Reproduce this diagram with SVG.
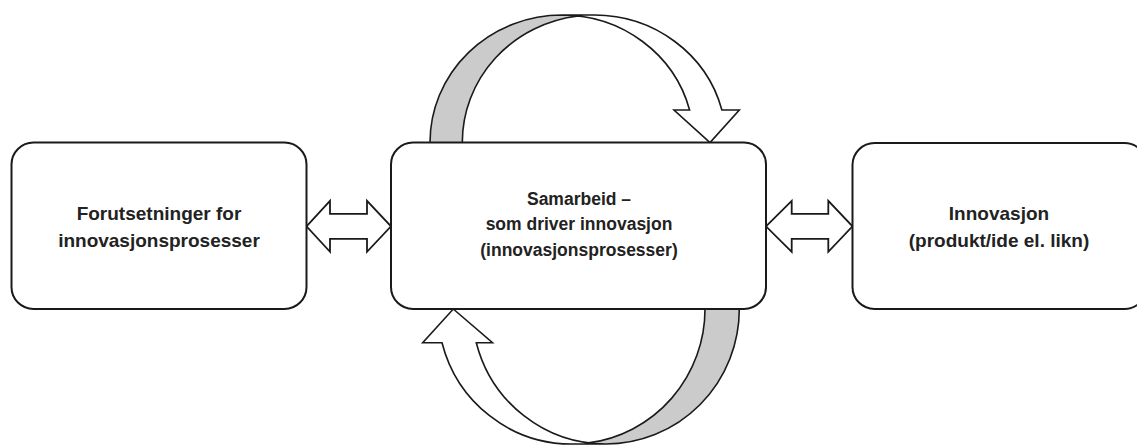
<svg xmlns="http://www.w3.org/2000/svg" width="1137" height="445" viewBox="0 0 1137 445">
  <style>
    .box { fill: #ffffff; stroke: #1a1a1a; stroke-width: 2; }
    .dbl { fill: #ffffff; stroke: #1a1a1a; stroke-width: 1.8; stroke-linejoin: miter; }
    .white { fill: #ffffff; stroke: none; }
    .gray { fill: #cbcbcb; stroke: none; }
    .outline { fill: none; stroke: #1a1a1a; stroke-width: 1.6; stroke-linejoin: miter; }
    .lbl { font-family: "Liberation Sans", Arial, sans-serif; font-weight: bold; fill: #222222; text-anchor: middle; }
    .big { font-size: 19px; }
    .mid { font-size: 17.5px; }
  </style>
  <rect width="1137" height="445" fill="#ffffff"/>
  <g id="connectors">
    <g id="loop-top">
      <path class="white" d="M710,142.5 L674,110 L689.6,110 A132,127.5 0 0 0 562,15 L594.3,15 A132,127.5 0 0 1 721.9,110 L739.3,110 Z"/>
      <path class="gray" d="M430,142.5 A132,127.5 0 0 1 578.15,15.96 A132,127.5 0 0 0 462.3,142.5 Z"/>
      <path class="outline" d="M578.15,15.96 A132,127.5 0 0 0 462.3,142.5 M430,142.5 A132,127.5 0 0 1 562,15 L594.3,15 A132,127.5 0 0 1 721.9,110 L739.3,110 L710,142.5 L674,110 L689.6,110 A132,127.5 0 0 0 562,15"/>
    </g>
    <g id="loop-bottom">
      <path class="white" d="M453.3,309 L492.5,342.7 L476.3,342.7 A133.6,135 0 0 0 605.7,444 L571.4,444 A133.6,135 0 0 1 442,342.7 L422.7,342.7 Z"/>
      <path class="gray" d="M739.3,309 A133.6,135 0 0 1 588.55,442.9 A133.6,135 0 0 0 705,309 Z"/>
      <path class="outline" d="M588.55,442.9 A133.6,135 0 0 0 705,309 M739.3,309 A133.6,135 0 0 1 605.7,444 L571.4,444 A133.6,135 0 0 1 442,342.7 L422.7,342.7 L453.3,309 L492.5,342.7 L476.3,342.7 A133.6,135 0 0 0 605.7,444"/>
    </g>
    <polygon id="arrow-left" class="dbl" points="306.5,226.3 330,200.8 330,213.8 367,213.8 367,200.8 391,226.3 367,251.8 367,238.8 330,238.8 330,251.8"/>
    <polygon id="arrow-right" class="dbl" points="766,226.3 791.7,200.8 791.7,213.8 828.3,213.8 828.3,200.8 852.5,226.3 828.3,251.8 828.3,238.8 791.7,238.8 791.7,251.8"/>
  </g>
  <g id="node-forutsetninger">
    <rect class="box" x="11.5" y="142.5" width="295" height="166.5" rx="22" ry="22"/>
    <text class="lbl big" x="159" y="219.5">Forutsetninger for</text>
    <text class="lbl big" x="159" y="247">innovasjonsprosesser</text>
  </g>
  <g id="node-samarbeid">
    <rect class="box" x="391" y="142.5" width="375" height="166.5" rx="22" ry="22"/>
    <text class="lbl mid" x="579" y="204.5">Samarbeid –</text>
    <text class="lbl mid" x="579" y="230">som driver innovasjon</text>
    <text class="lbl mid" x="579" y="255.5">(innovasjonsprosesser)</text>
  </g>
  <g id="node-innovasjon">
    <rect class="box" x="852.5" y="143" width="294" height="166" rx="22" ry="22"/>
    <text class="lbl big" x="999" y="219.5">Innovasjon</text>
    <text class="lbl big" x="999" y="247">(produkt/ide el. likn)</text>
  </g>
</svg>
